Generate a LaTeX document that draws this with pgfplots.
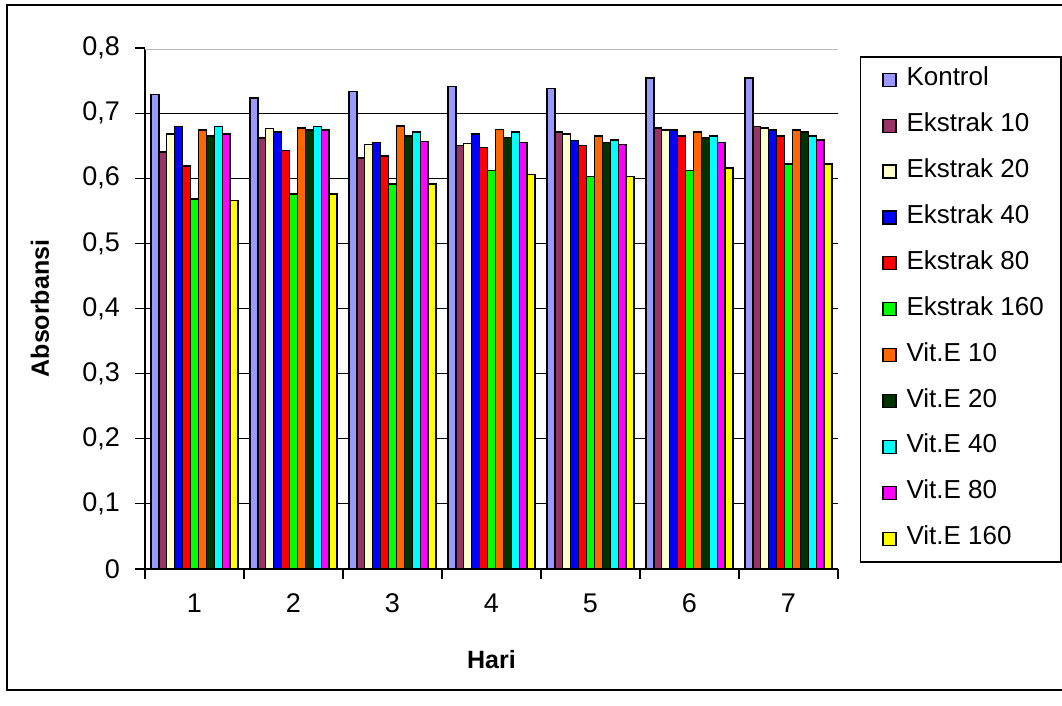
\documentclass[border=0pt]{standalone}
\usepackage{fontspec}
\setmainfont{Liberation Sans}
\usepackage{pgfplots}
\usepackage{pgfplotstable}
\pgfplotsset{compat=1.18}

\definecolor{cKon}{HTML}{9999FF}
\definecolor{cE10}{HTML}{993366}
\definecolor{cE20}{HTML}{FFFFCC}
\definecolor{cE40}{HTML}{0000FF}
\definecolor{cE80}{HTML}{FF0000}
\definecolor{cE160}{HTML}{00FF00}
\definecolor{cV10}{HTML}{FF6600}
\definecolor{cV20}{HTML}{003300}
\definecolor{cV40}{HTML}{00FFFF}
\definecolor{cV80}{HTML}{FF00FF}
\definecolor{cV160}{HTML}{FFFF00}

% absorbansi per hari
\pgfplotstableread{
x k     e10   e20   e40   e80   e160  v10   v20   v40   v80   v160
1 0.729 0.640 0.668 0.679 0.619 0.568 0.674 0.665 0.679 0.668 0.566
2 0.723 0.662 0.676 0.671 0.643 0.576 0.677 0.674 0.679 0.674 0.576
3 0.733 0.631 0.652 0.655 0.634 0.591 0.680 0.665 0.671 0.656 0.591
4 0.741 0.650 0.653 0.668 0.647 0.612 0.675 0.663 0.671 0.655 0.606
5 0.738 0.671 0.668 0.658 0.650 0.603 0.665 0.655 0.659 0.652 0.603
6 0.754 0.677 0.674 0.674 0.665 0.612 0.671 0.662 0.665 0.655 0.616
7 0.754 0.679 0.677 0.674 0.665 0.622 0.674 0.671 0.665 0.659 0.622
}\absdata

\newcommand\legtxt[1]{\makebox[66.5pt][l]{#1}}

\begin{document}
\begin{tikzpicture}
\useasboundingbox (0,0) rectangle (531pt,353pt);
\draw[line width=0.75pt] (540pt,8pt) -- (3.5pt,8pt) -- (3.5pt,350.5pt) -- (540pt,350.5pt);
\begin{axis}[
  at={(72.5pt,68.5pt)}, anchor=south west,
  scale only axis, width=346.5pt, height=260.5pt,
  ybar=0pt, bar width=0.08,
  xmin=0.5, xmax=7.5, ymin=0, ymax=0.8,
  axis lines=left, axis line style={-, line width=0.6pt},
  tick align=outside, major tick length=5pt,
  tick style={black, line width=0.6pt},
  xtick={0.5,1.5,...,7.5}, xticklabels={},
  extra x ticks={1,2,3,4,5,6,7},
  extra x tick labels={1,2,3,4,5,6,7},
  extra x tick style={major tick length=0pt, xmajorgrids=false,
    xticklabel style={yshift=-9pt}},
  ytick={0,0.1,0.2,0.3,0.4,0.5,0.6,0.7,0.8},
  yticklabel style={xshift=-4pt},
  ymajorgrids, grid style={black, line width=0.5pt},
  /pgf/number format/.cd, use comma, fixed, precision=1, assume math mode=true,
  /pgfplots/.cd,
  tick label style={font=\fontsize{13.5}{16}\selectfont},
  xlabel={Hari}, ylabel={Absorbansi},
  label style={font=\fontsize{12.5}{15}\selectfont\bfseries},
  xlabel style={at={(axis description cs:0.5,-0.1747)}, anchor=center},
  ylabel style={at={(axis description cs:-0.1515,0.5)}, anchor=center},
  every axis plot/.append style={draw=black, line width=0.7pt},
  legend image code/.code={\draw[#1, line width=0.6pt] (0pt,-3.25pt) rectangle (6.5pt,3.25pt);},
  legend cell align=left,
  legend style={at={(axis description cs:1.0317,0.9846)}, anchor=north west,
    draw=black, line width=0.75pt, inner xsep=10.8pt, inner ysep=6.5pt,
    row sep=12.95pt, column sep=5pt,
    font=\fontsize{13}{15}\selectfont,
    nodes={inner sep=0pt, text height=8pt, text depth=2pt}},
]
\addplot[fill=cKon]  table[x=x,y=k]    {\absdata};
\addplot[fill=cE10]  table[x=x,y=e10]  {\absdata};
\addplot[fill=cE20]  table[x=x,y=e20]  {\absdata};
\addplot[fill=cE40]  table[x=x,y=e40]  {\absdata};
\addplot[fill=cE80]  table[x=x,y=e80]  {\absdata};
\addplot[fill=cE160] table[x=x,y=e160] {\absdata};
\addplot[fill=cV10]  table[x=x,y=v10]  {\absdata};
\addplot[fill=cV20]  table[x=x,y=v20]  {\absdata};
\addplot[fill=cV40]  table[x=x,y=v40]  {\absdata};
\addplot[fill=cV80]  table[x=x,y=v80]  {\absdata};
\addplot[fill=cV160] table[x=x,y=v160] {\absdata};
\draw[draw=gray!55, double=white, double distance=0.9pt, line width=0.5pt]
  (axis cs:0.5,0.8) -- (axis cs:7.5,0.8);
\legend{\legtxt{Kontrol},\legtxt{Ekstrak 10},\legtxt{Ekstrak 20},\legtxt{Ekstrak 40},\legtxt{Ekstrak 80},
  \legtxt{Ekstrak 160},\legtxt{Vit.E 10},\legtxt{Vit.E 20},\legtxt{Vit.E 40},\legtxt{Vit.E 80},\legtxt{Vit.E 160}}
\end{axis}
\end{tikzpicture}
\end{document}
